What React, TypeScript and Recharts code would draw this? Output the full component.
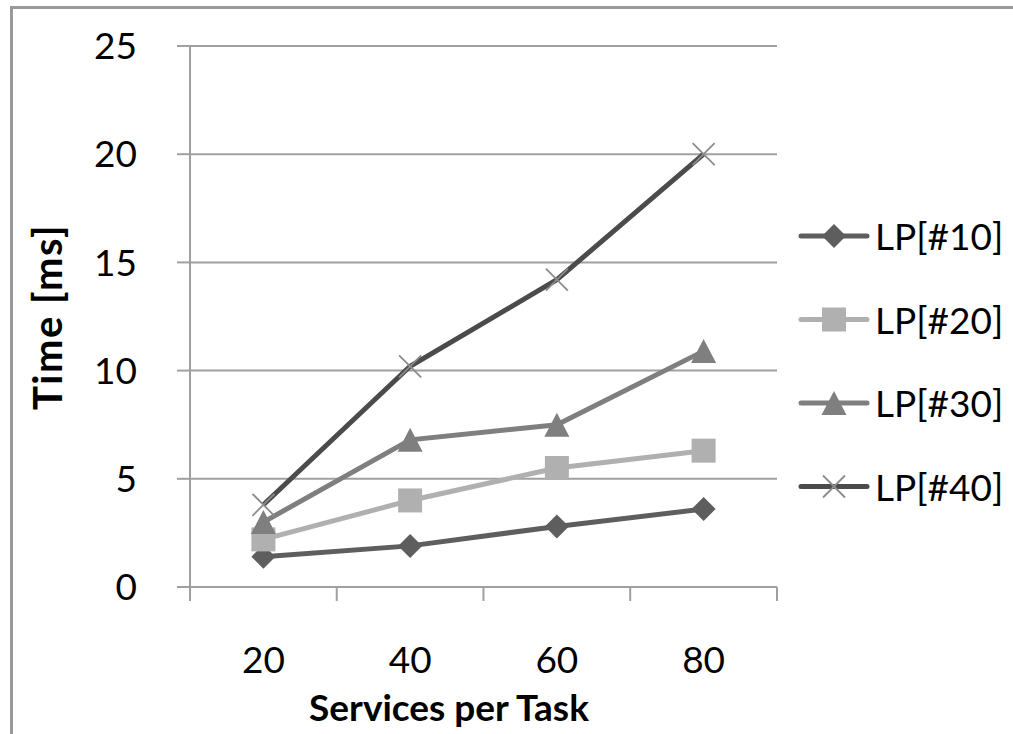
import { LineChart, Line, XAxis, YAxis, CartesianGrid } from 'recharts'

// services per task on the x axis, time in ms for each LP run
const servicesPerTask = [20, 40, 60, 80]
const lp10 = [1.4, 1.9, 2.8, 3.6]
const lp20 = [2.2, 4.0, 5.5, 6.3]
const lp30 = [3.0, 6.8, 7.5, 10.9]
const lp40 = [3.8, 10.2, 14.2, 20.0]
const yTicks = [0, 5, 10, 15, 20, 25]

type MarkerType = 'diamond' | 'square' | 'triangle' | 'cross'

const series: { key: string; name: string; values: number[]; color: string; markerColor: string; marker: MarkerType }[] = [
  { key: 'lp10', name: 'LP[#10]', values: lp10, color: '#5e5e5e', markerColor: '#5e5e5e', marker: 'diamond' },
  { key: 'lp20', name: 'LP[#20]', values: lp20, color: '#b0b0b0', markerColor: '#b0b0b0', marker: 'square' },
  { key: 'lp30', name: 'LP[#30]', values: lp30, color: '#7f7f7f', markerColor: '#7f7f7f', marker: 'triangle' },
  { key: 'lp40', name: 'LP[#40]', values: lp40, color: '#4b4b4b', markerColor: '#8c8c8c', marker: 'cross' },
]

const data = servicesPerTask.map((s, i) => {
  const row: Record<string, number> = { services: s }
  series.forEach((ser) => {
    row[ser.key] = ser.values[i]
  })
  return row
})

const FONT = 'Lato, "Open Sans", sans-serif'
const GRID = '#a0a0a0'
const HALF_STEP = 73.4

const Marker = ({ type, cx, cy, color }: { type: MarkerType; cx: number; cy: number; color: string }) => {
  if (type === 'diamond')
    return <path d={`M${cx} ${cy - 12}L${cx + 12} ${cy}L${cx} ${cy + 12}L${cx - 12} ${cy}Z`} fill={color} />
  if (type === 'square') return <rect x={cx - 12} y={cy - 12} width={24} height={24} fill={color} />
  if (type === 'triangle')
    return <path d={`M${cx} ${cy - 12}L${cx + 12.5} ${cy + 12}L${cx - 12.5} ${cy + 12}Z`} fill={color} />
  return (
    <path
      d={`M${cx - 11} ${cy - 11}L${cx + 11} ${cy + 11}M${cx + 11} ${cy - 11}L${cx - 11} ${cy + 11}`}
      stroke={color}
      strokeWidth={1.8}
      fill="none"
    />
  )
}

// category label in the middle of each band, tick marks on the band edges
const XTick = (props: any) => {
  const { x, y, payload, index } = props
  return (
    <g>
      <line x1={x - HALF_STEP} y1={y - 14} x2={x - HALF_STEP} y2={y} stroke={GRID} strokeWidth={2} />
      {index === servicesPerTask.length - 1 && (
        <line x1={x + HALF_STEP} y1={y - 14} x2={x + HALF_STEP} y2={y} stroke={GRID} strokeWidth={2} />
      )}
      <text x={x} y={y + 72} textAnchor="middle" fill="#000" fontSize={37} fontFamily={FONT}>
        {payload.value}
      </text>
    </g>
  )
}

const App = () => {
  return (
    <div
      style={{
        position: 'fixed',
        left: 0,
        top: 0,
        width: 1013,
        height: 734,
        overflow: 'hidden',
        background: '#fff',
      }}
    >
      <div
        style={{
          position: 'absolute',
          left: 10,
          top: 6,
          width: 1100,
          height: 900,
          borderLeft: '3px solid #999',
          borderTop: '3px solid #999',
        }}
      />
      <div style={{ position: 'absolute', left: 0, top: 0 }}>
        <LineChart width={1013} height={734} data={data} margin={{ top: 46, right: 236, bottom: 87, left: 0 }}>
          <CartesianGrid vertical={false} stroke={GRID} strokeWidth={2} />
          <XAxis
            dataKey="services"
            type="category"
            padding={{ left: HALF_STEP, right: HALF_STEP }}
            height={60}
            interval={0}
            tickSize={14}
            tickMargin={0}
            tickLine={false}
            axisLine={{ stroke: GRID, strokeWidth: 2 }}
            tick={<XTick />}
            label={() => (
              <text x={449} y={721} textAnchor="middle" fontSize={37} fontWeight="bold" fontFamily={FONT} fill="#000">
                Services per Task
              </text>
            )}
          />
          <YAxis
            domain={[0, 25]}
            ticks={yTicks}
            interval={0}
            width={190}
            tickSize={13}
            tickMargin={40}
            axisLine={{ stroke: GRID, strokeWidth: 2 }}
            tickLine={{ stroke: GRID, strokeWidth: 2 }}
            tick={{ fill: '#000', fontSize: 37, fontFamily: FONT }}
            label={() => (
              <text
                x={62}
                y={317}
                transform="rotate(-90 62 317)"
                textAnchor="middle"
                fontSize={40}
                letterSpacing={1.5}
                fontWeight="bold"
                fontFamily={FONT}
                fill="#000"
              >
                Time [ms]
              </text>
            )}
          />
          {series.map((s) => (
            <Line
              key={s.key}
              dataKey={s.key}
              name={s.name}
              type="linear"
              stroke={s.color}
              strokeWidth={5}
              isAnimationActive={false}
              activeDot={false}
              dot={(p: any) => (
                <Marker key={`${s.key}-${p.index}`} type={s.marker} cx={p.cx} cy={p.cy} color={s.markerColor} />
              )}
            />
          ))}
        </LineChart>
      </div>
      <svg width={1013} height={734} style={{ position: 'absolute', left: 0, top: 0, pointerEvents: 'none' }}>
        {series.map((s, i) => {
          const cy = 236 + i * 83.5
          return (
            <g key={s.key}>
              <line x1={801} y1={cy} x2={867} y2={cy} stroke={s.color} strokeWidth={5} strokeLinecap="round" />
              <Marker type={s.marker} cx={834} cy={cy} color={s.markerColor} />
              <text x={875} y={cy + 14} fontSize={37} fontFamily={FONT} fill="#000">
                {s.name}
              </text>
            </g>
          )
        })}
      </svg>
    </div>
  )
}

export default App
